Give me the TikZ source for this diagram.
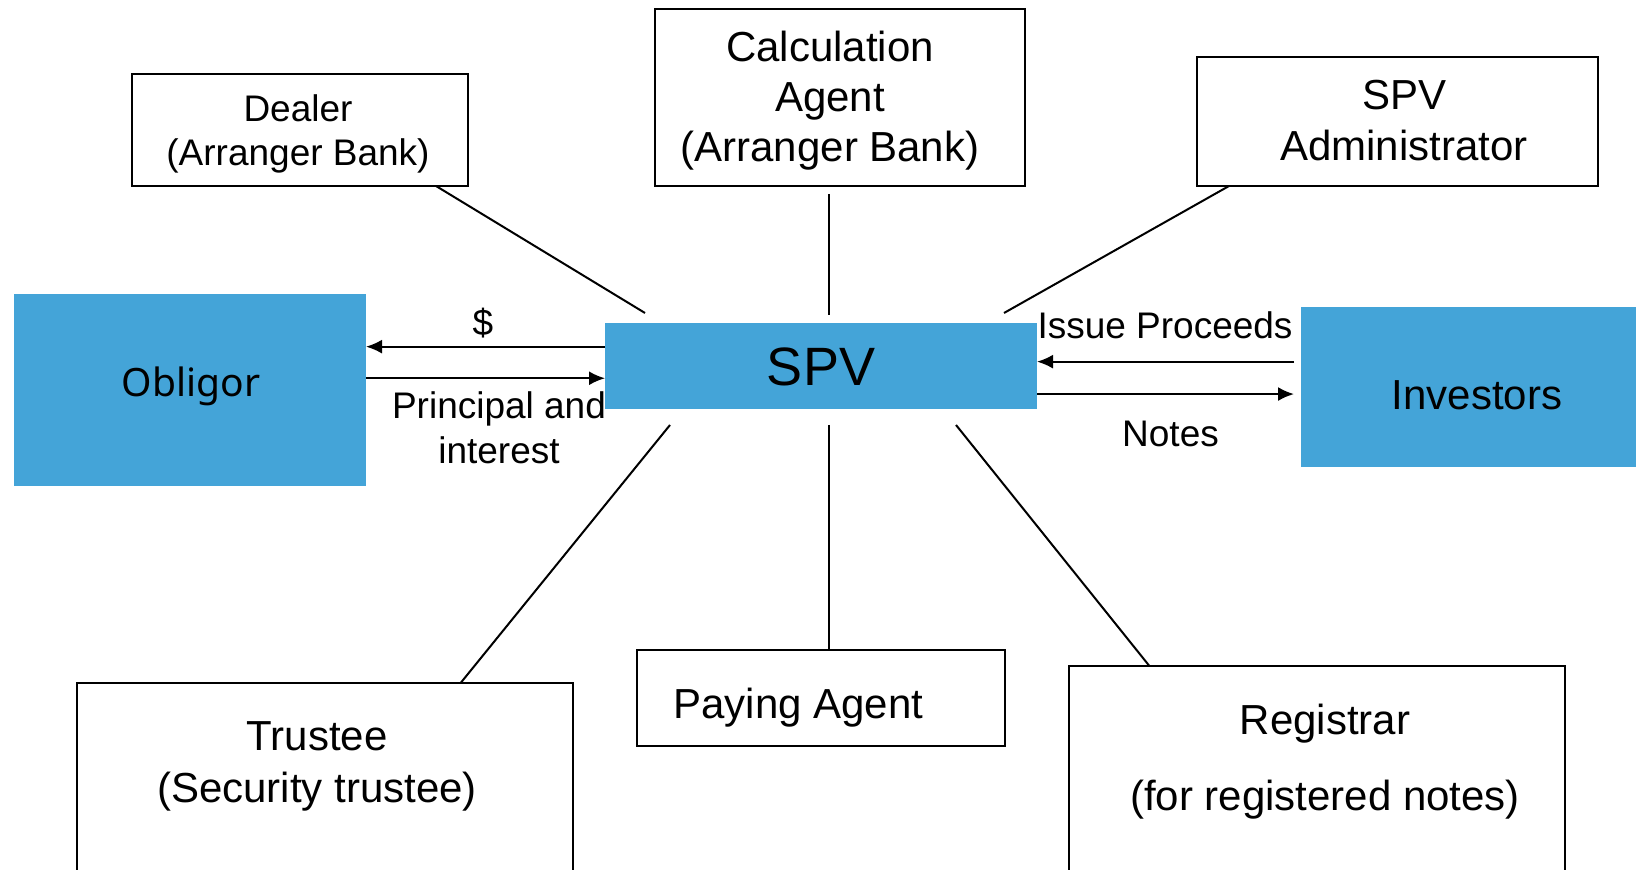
\documentclass[tikz,border=0pt]{standalone}
\usepackage{fontspec}
\setmainfont{Liberation Sans}
\newfontfamily\oblfont{Noto Sans}
\usetikzlibrary{arrows.meta}
\definecolor{boxblue}{RGB}{68,164,216}
\begin{document}
\begin{tikzpicture}[x=0.5pt,y=-0.5pt,
  box/.style={draw=black, line width=1pt, fill=white, inner sep=0pt, outer sep=0pt},
  bluebox/.style={fill=boxblue, draw=none, inner sep=0pt, outer sep=0pt},
  txt/.style={anchor=base, inner sep=0pt, outer sep=0pt, font=\fontsize{21}{25}\selectfont},
  smalltxt/.style={txt, font=\fontsize{18.5}{22}\selectfont},
  link/.style={line width=1pt},
  arr/.style={line width=1pt, -{Latex[length=8pt,width=7pt]}}]
\useasboundingbox (0,0) rectangle (1636,870);
\clip (0,0) rectangle (1636,870);
\fill[white] (0,0) rectangle (1636,870);

% blue boxes
\node[bluebox, minimum width=176.25pt, minimum height=96pt] (obligor) at (189.75,390) {};
\node[bluebox, minimum width=216pt, minimum height=42.75pt] (spv) at (821,366.25) {};
\node[bluebox, minimum width=174.5pt, minimum height=80pt] (investors) at (1475.5,387) {};

% outlined boxes
\node[box, minimum width=168pt, minimum height=56pt] (dealer) at (299.5,130) {};
\node[box, minimum width=184.75pt, minimum height=88.25pt] (calc) at (840,97.75) {};
\node[box, minimum width=200.25pt, minimum height=64.25pt] (admin) at (1397.25,121.75) {};
\node[box, minimum width=248pt, minimum height=108.75pt] (trustee) at (325,791.25) {};
\node[box, minimum width=184.25pt, minimum height=48pt] (paying) at (820.75,698) {};
\node[box, minimum width=248.25pt, minimum height=117.25pt] (registrar) at (1316.75,782.75) {};

% connectors
\draw[link] ([xshift=-15.75pt]dealer.south east) -- ([xshift=20pt,yshift=5.25pt]spv.north west);
\draw[link] ([xshift=-5.75pt,yshift=-4pt]calc.south) -- ([xshift=3.75pt,yshift=4.25pt]spv.north);
\draw[link] ([xshift=16pt]admin.south west) -- ([xshift=-16.5pt,yshift=5.25pt]spv.north east);
\draw[link] ([xshift=32.5pt,yshift=-8pt]spv.south west) -- ([xshift=192pt]trustee.north west);
\draw[link] ([xshift=3.75pt,yshift=-8pt]spv.south) -- ([xshift=3.875pt]paying.north);
\draw[link] ([xshift=67.5pt,yshift=-8pt]spv.south) -- ([xshift=40.25pt]registrar.north west);

% flows
\draw[arr] ([yshift=9.8pt]spv.west) -- ([yshift=9.8pt]spv.west -| obligor.east);
\draw[arr] ([yshift=-6pt]spv.west -| obligor.east) -- ([yshift=-6pt]spv.west);
\draw[arr, shorten <=3.5pt] ([yshift=2.3pt]spv.east -| investors.west) -- ([yshift=2.3pt]spv.east);
\draw[arr, shorten >=3.5pt] ([yshift=-13.9pt]spv.east) -- ([yshift=-13.9pt]spv.east -| investors.west);

% texts
\node[smalltxt] (dealerA) at (298,121.7) {Dealer};
\node[smalltxt] (dealerB) at (298,166) {(Arranger Bank)};
\node[txt] (calcA) at (830,61.7) {Calculation};
\node[txt] (calcB) at (830,111.7) {Agent};
\node[txt] (calcC) at (830,161.7) {(Arranger Bank)};
\node[txt] (adminA) at (1404,109.3) {SPV};
\node[txt] (adminB) at (1404,161) {Administrator};
\node[txt, font=\oblfont\fontsize{19.5}{24}\selectfont] (oblT) at (191,396.7) {Obligor};
\node[txt, font=\fontsize{27}{32}\selectfont] (spvT) at (821,386) {SPV};
\node[txt] (invT) at (1477,410) {Investors};
\node[txt] (payT) at (798.3,718.3) {Paying Agent};
\node[txt] (trA) at (317,750.7) {Trustee};
\node[txt] (trB) at (317,802.5) {(Security trustee)};
\node[txt] (regA) at (1325,734) {Registrar};
\node[txt] (regB) at (1325,810.5) {(for registered notes)};
\node[smalltxt] (dollar) at (483,336) {\$};
\node[smalltxt] (princA) at (499,418.3) {Principal and};
\node[smalltxt] (princB) at (499,463.3) {interest};
\node[smalltxt] (issueT) at (1165,338.7) {Issue Proceeds};
\node[smalltxt] (notesT) at (1170.5,447) {Notes};
\end{tikzpicture}
\end{document}
